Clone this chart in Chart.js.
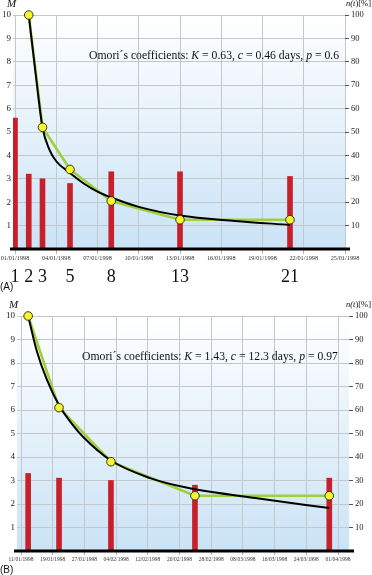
<!DOCTYPE html>
<html><head><meta charset="utf-8">
<script src="https://cdn.jsdelivr.net/npm/chart.js@4.4.1/dist/chart.umd.min.js"></script>
<style>
html,body{margin:0;padding:0;background:#fff;width:372px;height:575px;overflow:hidden;}
canvas{position:absolute;left:0;}
#ca{top:0;} #cb{top:292px;}
</style></head>
<body>
<canvas id="ca" width="372" height="292"></canvas>
<canvas id="cb" width="372" height="283"></canvas>
<script>
// ---------- Panel A data ----------
const tickDaysA = [1,4,7,10,13,16,19,22,25];
const tickLabelsA = ['01/01/1998','04/01/1998','07/01/1998','10/01/1998','13/01/1998','16/01/1998','19/01/1998','22/01/1998','25/01/1998'];
const barDaysA = [1,2,3,5,8,13,21];
const barMagA = [5.6,3.2,3.0,2.8,3.3,3.3,3.1];
const dayLabelsA = ['1','2','3','5','8','13','21'];
const nDaysA = [2,3,5,8,13,21];
const nPctA = [100,52,34,20.5,12.5,12.5];
const omoriDaysA = [2,2.5,3,3.5,4,5,6,7,8,10,13,17,21];
const omoriPctA = [100,75,52,42.5,37.5,32.5,28,24.5,22,18,14.3,12,10.3];
const coefA = ['0.63','0.46','0.6'];

// ---------- Panel B data ----------
const tickDaysB = [0,8,16,24,32,40,48,56,64,72,80];
const tickLabelsB = ['11/01/1998','19/01/1998','27/01/1998','04/02/1998','12/02/1998','20/02/1998','28/02/1998','08/03/1998','16/03/1998','24/03/1998','01/04/1998'];
const barDaysB = [1.8,9.6,22.7,43.9,77.8];
const barMagB = [3.3,3.1,3.0,2.8,3.1];
const nDaysB = [1.8,9.6,22.7,43.9,77.8];
const nPctB = [100,61,38,23.5,23.5];
const omoriDaysB = [1.8,4,6.5,9.6,12.9,15.7,22.7,32.6,41.7,60,77.8];
const omoriPctB = [100,85,73,62,54,48.5,38.5,31,27,22.3,18.3];
const coefB = ['1.43','12.3','0.97'];

const SERIF = '"Liberation Serif","DejaVu Serif",serif';
const RED = '#c8202a', GREEN = '#9fcf3a', YEL = '#f6f62a';

function pts(xs, ys){ return xs.map((x,i)=>({x:x,y:ys[i]})); }

function drawRich(ctx, parts, x, y, targetW){
  ctx.save();
  ctx.textBaseline = 'middle'; ctx.textAlign = 'left'; ctx.fillStyle = '#111';
  let w = 0;
  for (const [t, it] of parts){ ctx.font = (it ? 'italic ' : '') + '12px ' + SERIF; w += ctx.measureText(t).width; }
  const size = 12 * targetW / w;
  let cx = x;
  for (const [t, it] of parts){
    ctx.font = (it ? 'italic ' : '') + size.toFixed(2) + 'px ' + SERIF;
    ctx.fillText(t, cx, y);
    cx += ctx.measureText(t).width;
  }
  ctx.restore();
}

function makeChart(id, cfg){
  const P = cfg;
  const deco = {
    id: 'deco',
    beforeDraw(chart){
      const {ctx, chartArea:a} = chart;
      const g = ctx.createLinearGradient(0, a.top, 0, a.bottom);
      g.addColorStop(0, '#ffffff'); g.addColorStop(1, '#cae3f6');
      ctx.save(); ctx.fillStyle = g;
      ctx.fillRect(a.left, a.top, a.right - a.left, a.bottom - a.top);
      ctx.restore();
    },
    afterDatasetsDraw(chart){
      const {ctx, chartArea:a} = chart;
      ctx.save(); ctx.strokeStyle = '#000'; ctx.lineWidth = 3;
      ctx.beginPath(); ctx.moveTo(a.left - 3, a.bottom); ctx.lineTo(a.right + 5, a.bottom); ctx.stroke();
      ctx.restore();
    },
    afterDraw(chart){
      const {ctx} = chart;
      const xs = chart.scales.x;
      ctx.save();
      ctx.fillStyle = '#111';
      ctx.font = 'italic 11px ' + SERIF; ctx.textBaseline = 'middle'; ctx.textAlign = 'left';
      ctx.fillText('M', P.mX, P.mY);
      const txt1 = 'n(', txt2 = 't', txt3 = ')[%]';
      ctx.font = 'italic 8.5px ' + SERIF; const w1 = ctx.measureText(txt1).width, w2 = ctx.measureText(txt2).width;
      ctx.font = '8.5px ' + SERIF; const w3 = ctx.measureText(txt3).width;
      const sx = 371 - (w1 + w2 + w3);
      ctx.font = 'italic 8.5px ' + SERIF; ctx.fillText(txt1, sx, P.nY); ctx.fillText(txt2, sx + w1, P.nY);
      ctx.font = '8.5px ' + SERIF; ctx.fillText(txt3, sx + w1 + w2, P.nY);
      drawRich(ctx, [['Omori´s coefficients: ',false],['K',true],[' = ' + P.coef[0] + ', ',false],['c',true],[' = ' + P.coef[1] + ' days, ',false],['p',true],[' = ' + P.coef[2],false]], P.oX, P.oY, P.oW);
      if (P.dayLabels){
        ctx.font = '18px ' + SERIF; ctx.textAlign = 'center'; ctx.textBaseline = 'middle'; ctx.fillStyle = '#111';
        P.barDays.forEach((d,i)=> ctx.fillText(P.dayLabels[i], xs.getPixelForValue(d), P.dayY));
      }
      ctx.font = '10px "Liberation Sans","DejaVu Sans",sans-serif'; ctx.textAlign = 'left'; ctx.textBaseline = 'middle';
      ctx.fillText(P.panel, 0, P.panelY);
      ctx.restore();
    }
  };
  return new Chart(document.getElementById(id), {
    type: 'bar',
    data: {
      datasets: [
        { type:'scatter', data: pts(P.nDays, P.nPct), yAxisID:'y1', pointRadius:4.3, pointBackgroundColor:YEL, pointBorderColor:'#333', pointBorderWidth:1, showLine:false, order:0, clip:false },
        { type:'line', data: pts(P.oDays, P.oPct), yAxisID:'y1', borderColor:'#000', borderWidth:2, pointRadius:0, cubicInterpolationMode:'monotone', fill:false, order:1, clip:false },
        { type:'line', data: pts(P.nDays, P.nPct), yAxisID:'y1', borderColor:GREEN, borderWidth:2.6, pointRadius:0, tension:0, fill:false, order:2, clip:false },
        { type:'bar', data: pts(P.barDays, P.barMag), yAxisID:'y', backgroundColor:RED, barThickness:5, order:3 }
      ]
    },
    options: {
      responsive:false, animation:false, devicePixelRatio:1,
      layout:{ padding:{ top:P.top, left:0, right:0, bottom:0 } },
      plugins:{ legend:{display:false}, tooltip:{enabled:false} },
      scales:{
        x:{ type:'linear', min:P.xmin, max:P.xmax, offset:false,
            grid:{ color:'#c4c8cc', lineWidth:1, offset:false, drawTicks:true, tickLength:P.tickLen, tickColor:'#b0b4b8' },
            border:{ display:false },
            afterBuildTicks(s){ s.ticks = P.tickDays.map(v=>({value:v})); },
            ticks:{ autoSkip:false, maxRotation:0, minRotation:0, padding:1, color:'#333', font:{ family:SERIF, size:P.tickFont },
                    callback:(v,i)=> P.tickLabels[i] },
            afterFit(s){ s.height = P.xH; s.paddingLeft = 0; s.paddingRight = 0; } },
        y:{ position:'left', min:0, max:10,
            grid:{ color:'#c4c8cc', lineWidth:1, drawTicks:false },
            border:{ display:false },
            ticks:{ stepSize:1, padding:2, color:'#222', font:{ family:SERIF, size:9 }, callback:(v)=> v===0 ? '' : String(v) },
            afterFit(s){ s.width = P.leftW; s.paddingTop = 0; s.paddingBottom = 0; } },
        y1:{ position:'right', min:0, max:100,
            grid:{ drawOnChartArea:false, drawTicks:true, tickLength:4, color:'#555' },
            border:{ display:false },
            ticks:{ stepSize:10, padding:2, color:'#222', font:{ family:SERIF, size:8.5 }, callback:(v)=> v===0 ? '' : String(v) },
            afterFit(s){ s.width = P.rightW; s.paddingTop = 0; s.paddingBottom = 0; } }
      }
    },
    plugins:[deco]
  });
}

makeChart('ca', {
  top:15, xH:43, leftW:13, rightW:27,
  xmin: 1 - 2/13.75, xmax: 25, tickLen:5, tickFont:6.3,
  tickDays:tickDaysA, tickLabels:tickLabelsA,
  barDays:barDaysA, barMag:barMagA, nDays:nDaysA, nPct:nPctA, oDays:omoriDaysA, oPct:omoriPctA,
  coef:coefA, dayLabels:dayLabelsA, dayY:277,
  mX:7, mY:4, nY:4, oX:89, oY:56, oW:250, panel:'(A)', panelY:287
});
makeChart('cb', {
  top:24, xH:24, leftW:17, rightW:23,
  xmin: -4/3.9625, xmax: 80 + 11/3.9625, tickLen:4, tickFont:5.5,
  tickDays:tickDaysB, tickLabels:tickLabelsB,
  barDays:barDaysB, barMag:barMagB, nDays:nDaysB, nPct:nPctB, oDays:omoriDaysB, oPct:omoriPctB,
  coef:coefB, dayLabels:null, dayY:0,
  mX:9, mY:13, nY:13, oX:82, oY:65, oW:256, panel:'(B)', panelY:278
});
</script>
</body></html>
